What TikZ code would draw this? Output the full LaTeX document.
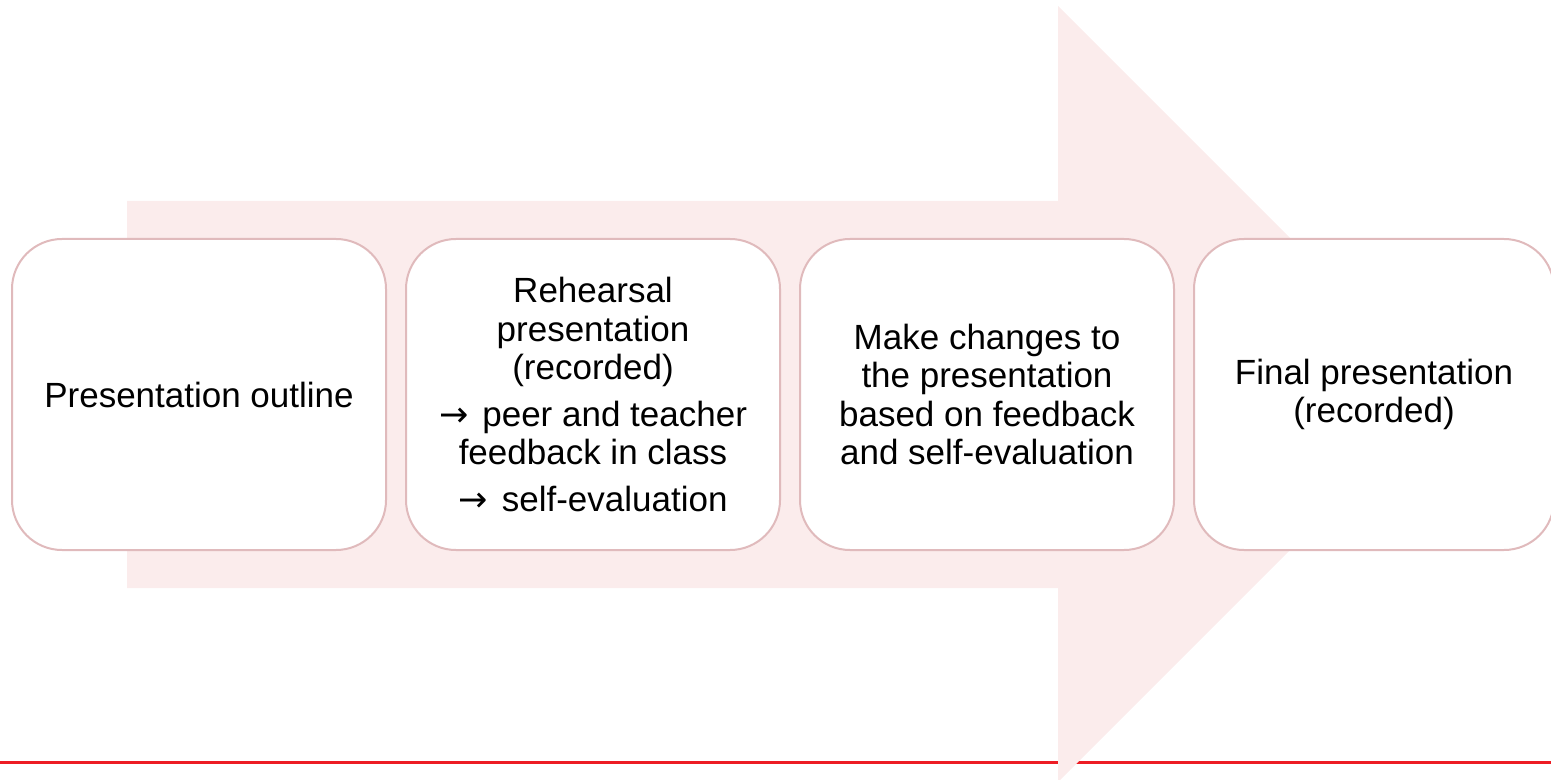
\documentclass[tikz,border=0pt]{standalone}
\usepackage{fontspec}
\setmainfont{Liberation Sans}
\newfontfamily\arrowfont{DejaVu Sans}
\usetikzlibrary{positioning}

\definecolor{arrowpink}{RGB}{251,236,236}
\definecolor{boxline}{RGB}{224,186,188}
\definecolor{rulered}{RGB}{237,28,36}

\newcommand{\thento}{{\arrowfont →}\hspace{0.4em}}

\begin{document}
\begin{tikzpicture}[x=0.5pt,y=-0.5pt,node distance=9pt,
    stage/.style={draw=boxline,line width=1pt,fill=white,rounded corners=25pt,
      minimum width=187pt,minimum height=155.5pt,align=center,inner sep=0pt,
      font=\fontsize{17.5}{19.25}\selectfont}]

                \useasboundingbox (0,0) rectangle (1551,780);

                \draw[rulered,line width=1.5pt] (0,762.5) -- (1551,762.5);

                \fill[arrowpink] (127,201) -- (1058,201) -- (1058,6) -- (1446,394)
                                 -- (1058,782) -- (1058,588) -- (127,588) -- cycle;

                \node[stage] (outline) at (199,394.5) {Presentation outline};

                \node[stage] (rehearsal) [right=of outline] {Rehearsal\\presentation\\(recorded)\\[4pt]
                      \thento peer and teacher\\feedback in class\\[4pt]\thento self-evaluation};

                \node[stage] (changes) [right=of rehearsal] {Make changes to\\the presentation\\based on feedback\\and self-evaluation};

                \node[stage,minimum width=180pt] (final) [right=of changes] {Final presentation\\(recorded)};

            \end{tikzpicture}
\end{document}
